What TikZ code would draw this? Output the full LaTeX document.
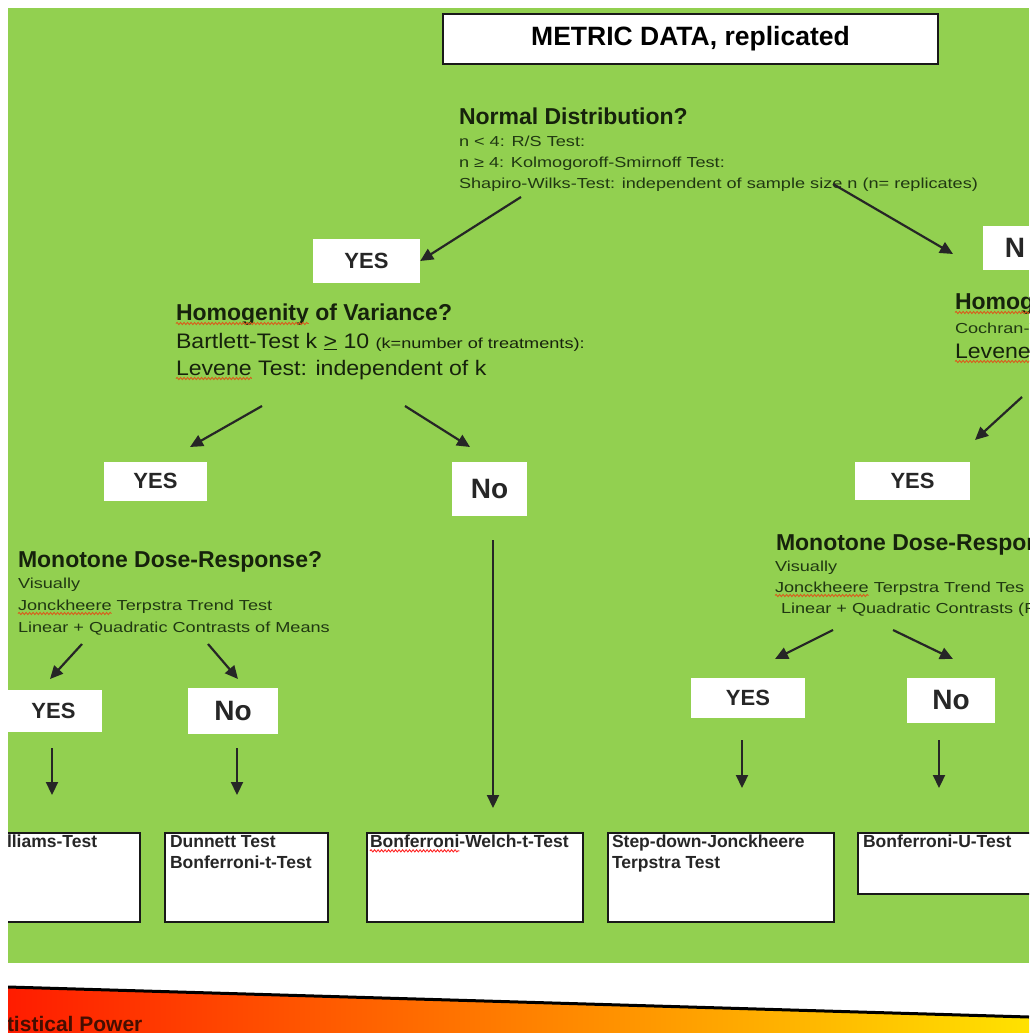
\documentclass[tikz,border=0pt]{standalone}
\usepackage{fontspec}
\setmainfont{Liberation Sans}
\newfontfamily\widesans{Liberation Sans}[FakeStretch=1.25]
\newfontfamily\midsans{Liberation Sans}[FakeStretch=1.1]
\usepackage{tikz}
\usetikzlibrary{arrows.meta, positioning, decorations.pathmorphing}

\definecolor{slidegreen}{RGB}{146,208,80}
\definecolor{darkink}{RGB}{22,34,12}
\definecolor{softink}{RGB}{32,56,18}
\definecolor{powerred}{RGB}{255,28,0}
\definecolor{powerorange}{RGB}{255,140,0}
\definecolor{poweryellow}{RGB}{255,226,0}
\definecolor{powerink}{RGB}{70,14,0}
\definecolor{spellmark}{RGB}{214,96,30}

\begin{document}
\begin{tikzpicture}[
    x=1pt, y=-1pt,
    txt/.style={inner sep=0pt, outer sep=0pt, anchor=base west},
    question/.style={txt, font=\bfseries\fontsize{23}{27}\selectfont, text=darkink},
    detail/.style={txt, font=\widesans\fontsize{14.5}{17}\selectfont, text=softink},
    bigline/.style={txt, font=\midsans\fontsize{21}{25}\selectfont, text=darkink},
    answer/.style={rectangle, fill=white, inner sep=0pt,
                   font=\bfseries\fontsize{22}{26}\selectfont, text=black!85},
    noanswer/.style={answer, font=\bfseries\fontsize{28}{32}\selectfont},
    result/.style={rectangle, draw=black!90, line width=1.6pt, fill=white,
                   anchor=north west, inner sep=0pt},
    restext/.style={txt, anchor=north west, align=left,
                    font=\bfseries\fontsize{17.5}{21}\selectfont, text=black!85},
    arr/.style={-{Triangle[length=13pt, width=12pt]}, line width=2.2pt, draw=black!85},
    squig/.style={draw=spellmark, line width=0.9pt, decorate,
                  decoration={snake, amplitude=1.1pt, segment length=3.5pt}},
]
\useasboundingbox (0,0) rectangle (1029,1033);
\fill[white] (0,0) rectangle (1029,1033);

\begin{scope}
\clip (8,0) rectangle (1029,1033);
\fill[slidegreen] (8,8) rectangle (1029,963);

%% Title
\node[rectangle, draw=black!90, line width=1.5pt, fill=white,
      minimum width=495pt, minimum height=50pt,
      font=\bfseries\fontsize{26.5}{30}\selectfont] (title) at (690.5,39) {METRIC DATA, replicated};

%% Normal distribution
\node[question] (normQ) at (459,124) {Normal Distribution?};
\node[detail]   (normA) at (459,146) {n < 4: R/S Test:};
\node[detail]   (normB) at (459,167) {n ≥ 4: Kolmogoroff-Smirnoff Test:};
\node[detail]   (normC) at (459,188) {Shapiro-Wilks-Test: independent of sample size n (n= replicates)};

\node[answer, minimum width=107pt, minimum height=44pt] (yes1) at (366.5,261) {YES};
\node[noanswer, minimum width=64pt, minimum height=44pt] (no0) at (1015,248) {N};

%% Homogenity, left branch
\node[question] (homQ) at (176,320) {Homogenity};
\node[question] (homQb) at (homQ.base east) {\ of Variance?};
\node[bigline]  (bart) at (176,348) {Bartlett-Test k \underline{>} 10 {\widesans\fontsize{14.5}{17}\selectfont (k=number of treatments):}};
\node[bigline]  (lev)  at (176,375) {Levene};
\node[bigline]  (levb) at (lev.base east) {\ Test: independent of k};

%% Homogenity, right branch
\node[question] (homR)  at (955,309) {Homog};
\node[detail]   (cochR) at (955,333) {Cochran-T};
\node[bigline]  (levR)  at (955,358) {Levene-};

\node[answer, minimum width=103pt, minimum height=39pt] (yes2) at (155.5,481) {YES};
\node[noanswer, minimum width=75pt, minimum height=54pt] (no1) at (489.5,489) {No};
\node[answer, minimum width=115pt, minimum height=38pt] (yes2R) at (912.5,481) {YES};

%% Monotone dose-response, left
\node[question] (monQ) at (18,567) {Monotone Dose-Response?};
\node[detail]   (monA) at (18,588) {Visually};
\node[detail]   (monB) at (18,610) {Jonckheere};
\node[detail]   (monBb) at (monB.base east) {\ Terpstra Trend Test};
\node[detail]   (monC) at (18,632) {Linear + Quadratic Contrasts of Means};

%% Monotone dose-response, right
\node[question] (monRQ) at (776,550) {Monotone Dose-Respon};
\node[detail]   (monRA) at (775,571) {Visually};
\node[detail]   (monRB) at (775,592) {Jonckheere};
\node[detail]   (monRBb) at (monRB.base east) {\ Terpstra Trend Tes};
\node[detail]   (monRC) at (781,613) {Linear + Quadratic Contrasts (F};

\node[answer, minimum width=97pt, minimum height=42pt] (yes3) at (53.5,711) {YES};
\node[noanswer, minimum width=90pt, minimum height=46pt] (no2) at (233,711) {No};
\node[answer, minimum width=114pt, minimum height=40pt] (yes3R) at (748,698) {YES};
\node[noanswer, minimum width=88pt, minimum height=45pt] (no3R) at (951,700) {No};

%% Result boxes
\node[result, minimum width=150pt, minimum height=89pt] (rWill) at (-11,832) {};
\node[result, minimum width=163pt, minimum height=89pt] (rDun)  at (164,832) {};
\node[result, minimum width=216pt, minimum height=89pt] (rBW)   at (366,832) {};
\node[result, minimum width=226pt, minimum height=89pt] (rStep) at (607,832) {};
\node[result, minimum width=190pt, minimum height=61pt] (rBU)   at (857,832) {};

\node[restext] (tWill) at (7,835)   {lliams-Test};
\node[restext] (tDun)  at (170,835) {Dunnett Test\\Bonferroni-t-Test};
\node[restext] (tBW)   at (370,835) {Bonferroni};
\node[restext] (tBWb)  at (tBW.north east) {-Welch-t-Test};
\node[restext] (tStep) at (612,835) {Step-down-Jonckheere\\Terpstra Test};
\node[restext] (tBU)   at (863,835) {Bonferroni-U-Test};

%% Spelling marks
\foreach \w in {homQ, lev, homR, levR, monB, monRB}
  \draw[squig] ([yshift=-3.5pt]\w.base west) -- ([yshift=-3.5pt]\w.base east);
\draw[squig, draw=red!85] ([yshift=-3pt]tBW.south west) -- ([yshift=-3pt]tBW.south east);

%% Arrow ends
\coordinate (nL0) at (521,197);  \coordinate (nR0) at (833,184);
\coordinate (nR1) at (953,254);
\coordinate (hL0) at (262,406);  \coordinate (hL1) at (190,447);
\coordinate (hM0) at (405,406);  \coordinate (hM1) at (470,447);
\coordinate (hR0) at (1022,397); \coordinate (hR1) at (975,440);
\coordinate (mL0) at (82,644);   \coordinate (mL1) at (50,679);
\coordinate (mM0) at (208,644);  \coordinate (mM1) at (238,679);
\coordinate (mR0) at (833,630);  \coordinate (mR1) at (775,659);
\coordinate (mS0) at (893,630);  \coordinate (mS1) at (953,659);
\coordinate (v10) at (52,748);   \coordinate (v11) at (52,795);
\coordinate (v20) at (237,748);  \coordinate (v21) at (237,795);
\coordinate (v30) at (493,540);  \coordinate (v31) at (493,808);
\coordinate (v40) at (742,740);  \coordinate (v41) at (742,788);
\coordinate (v50) at (939,740);  \coordinate (v51) at (939,788);

%% Arrows
\draw[arr] (nL0) -- (yes1.east);
\draw[arr] (nR0) -- (nR1);
\draw[arr] (hL0) -- (hL1);
\draw[arr] (hM0) -- (hM1);
\draw[arr] (hR0) -- (hR1);
\draw[arr] (mL0) -- (mL1);
\draw[arr] (mM0) -- (mM1);
\draw[arr] (mR0) -- (mR1);
\draw[arr] (mS0) -- (mS1);
\foreach \v in {1,...,5}
  \draw[arr] (v\v0) -- (v\v1);

%% Statistical power band
\shade[left color=powerred, middle color=powerorange, right color=poweryellow]
  (8,988) -- (1029,1018) -- (1029,1033) -- (8,1033) -- cycle;
\draw[line width=3pt, black] (8,987) -- (1029,1017);
\node[txt, font=\bfseries\fontsize{21}{24}\selectfont, text=powerink] (power) at (7,1031) {tistical Power};
\end{scope}
\end{tikzpicture}
\end{document}
